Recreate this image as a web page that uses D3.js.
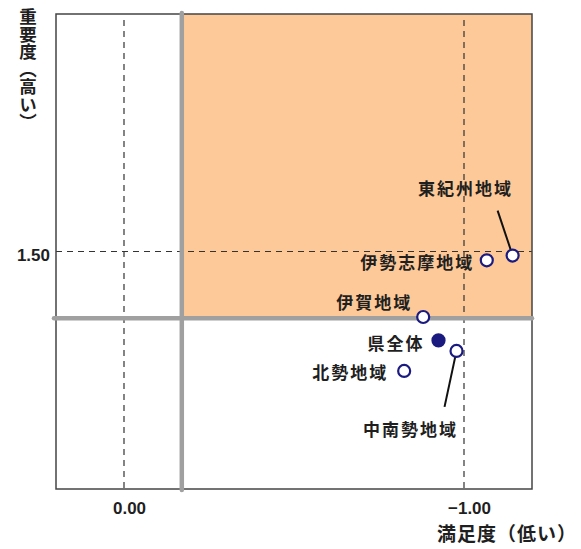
<!DOCTYPE html>
<html>
<head>
<meta charset="utf-8">
<script src="https://cdn.jsdelivr.net/npm/d3@7"></script>
<style>
  body { margin: 0; background: #fff; }
  text { font-family: "Noto Sans CJK JP", "Noto Sans", sans-serif; fill: #1f1f1f; }
</style>
</head>
<body>
<div id="chart"></div>
<script>
// data
var regions = ["東紀州地域", "伊勢志摩地域", "伊賀地域", "県全体", "中南勢地域", "北勢地域"]
var satisfaction = [-1.143, -1.067, -0.880, -0.925, -0.978, -0.824]
var importance = [1.488, 1.474, 1.307, 1.238, 1.207, 1.148]
var isTotal = [false, false, false, true, false, false]
var xTicks = [0.00, -1.00]
var yTicks = [1.50]
var avgSatisfaction = -0.17
var avgImportance = 1.303

// label layout (pixel offsets from the point)
var labelLayout = [
  {dx: -47, dy: -68, anchor: "middle", lead: [-15, -45]},
  {dx: -12.5, dy: 1, anchor: "end"},
  {dx: -11, dy: -15, anchor: "end"},
  {dx: -14, dy: 2, anchor: "end"},
  {dx: -46, dy: 78, anchor: "middle", lead: [-12, 56]},
  {dx: -16, dy: 1, anchor: "end"}
]

var W = 581, H = 549
var m = {left: 56, right: 532, top: 14, bottom: 489}

var svg = d3.select("#chart").append("svg")
    .attr("width", W)
    .attr("height", H)

var x = d3.scaleLinear().domain([0.2, -1.2]).range([m.left, m.right])
var y = d3.scaleLinear().domain([0.8, 2.2]).range([m.bottom, m.top])

// orange quadrant
svg.append("rect")
    .attr("x", x(avgSatisfaction))
    .attr("y", m.top)
    .attr("width", m.right - x(avgSatisfaction))
    .attr("height", y(avgImportance) - m.top)
    .style("fill", "#fdc998")

// dashed reference lines
svg.selectAll("xdash")
  .data(xTicks)
  .enter()
  .append("line")
    .attr("x1", function(d) { return x(d) })
    .attr("x2", function(d) { return x(d) })
    .attr("y1", m.top + 6)
    .attr("y2", m.bottom)
    .attr("stroke", "#333")
    .attr("stroke-width", 1.2)
    .attr("stroke-dasharray", "6,5")

svg.selectAll("ydash")
  .data(yTicks)
  .enter()
  .append("line")
    .attr("x1", m.left)
    .attr("x2", m.right)
    .attr("y1", function(d) { return y(d) })
    .attr("y2", function(d) { return y(d) })
    .attr("stroke", "#333")
    .attr("stroke-width", 1.2)
    .attr("stroke-dasharray", "6,5")

// frame
svg.append("rect")
    .attr("x", m.left)
    .attr("y", m.top)
    .attr("width", m.right - m.left)
    .attr("height", m.bottom - m.top)
    .style("fill", "none")
    .style("stroke", "#444")
    .style("stroke-width", 1.5)

// average lines (thick gray)
svg.append("line")
    .attr("x1", x(avgSatisfaction)).attr("x2", x(avgSatisfaction))
    .attr("y1", m.top - 1).attr("y2", m.bottom + 1)
    .attr("stroke", "#a0a0a0")
    .attr("stroke-width", 4.5)
    .attr("stroke-linecap", "round")
svg.append("line")
    .attr("x1", m.left - 2).attr("x2", m.right)
    .attr("y1", y(avgImportance)).attr("y2", y(avgImportance))
    .attr("stroke", "#a0a0a0")
    .attr("stroke-width", 4.5)
    .attr("stroke-linecap", "round")

// axes
var xAxis = svg.append("g")
    .attr("transform", "translate(0," + m.bottom + ")")
    .call(d3.axisBottom(x).tickValues(xTicks).tickSize(0).tickPadding(13).tickFormat(d3.format(".2f")))
xAxis.select(".domain").remove()
xAxis.selectAll("text")
    .attr("dx", 5)
    .style("font-size", "17px")
    .style("font-weight", "bold")
    .style("font-family", "'Liberation Sans', Arial, sans-serif")

var yAxis = svg.append("g")
    .attr("transform", "translate(" + m.left + ",0)")
    .call(d3.axisLeft(y).tickValues(yTicks).tickSize(0).tickPadding(6).tickFormat(d3.format(".2f")))
yAxis.select(".domain").remove()
yAxis.selectAll("text")
    .attr("dy", "0.55em")
    .style("font-size", "17px")
    .style("font-weight", "bold")
    .style("font-family", "'Liberation Sans', Arial, sans-serif")

// axis titles
svg.append("text")
    .attr("x", 28)
    .attr("y", 8)
    .text("重要度（高い）")
    .style("writing-mode", "vertical-rl")
    .style("font-size", "17.5px")
    .style("font-weight", "bold")

svg.append("text")
    .attr("x", 577)
    .attr("y", 541)
    .attr("text-anchor", "end")
    .text("満足度（低い）")
    .style("font-size", "19px")
    .style("font-weight", "bold")
    .style("letter-spacing", "1px")

// leader lines
svg.selectAll("leader")
  .data(regions.filter(function(d, i) { return labelLayout[i].lead }))
  .enter()
  .append("line")
    .attr("x1", function(d) { var i = regions.indexOf(d); return x(satisfaction[i]) + labelLayout[i].lead[0] })
    .attr("y1", function(d) { var i = regions.indexOf(d); return y(importance[i]) + labelLayout[i].lead[1] })
    .attr("x2", function(d) { var i = regions.indexOf(d); return x(satisfaction[i]) })
    .attr("y2", function(d) { var i = regions.indexOf(d); return y(importance[i]) })
    .attr("stroke", "#111")
    .attr("stroke-width", 2)

// points
svg.selectAll("pt")
  .data(regions)
  .enter()
  .append("circle")
    .attr("cx", function(d, i) { return x(satisfaction[i]) })
    .attr("cy", function(d, i) { return y(importance[i]) })
    .attr("r", 6)
    .style("fill", function(d, i) { return isTotal[i] ? "#1a1a80" : "#fff" })
    .style("stroke", "#1a1a80")
    .style("stroke-width", 2.2)

// labels
svg.selectAll("lbl")
  .data(regions)
  .enter()
  .append("text")
    .attr("x", function(d, i) { return x(satisfaction[i]) + labelLayout[i].dx })
    .attr("y", function(d, i) { return y(importance[i]) + labelLayout[i].dy })
    .attr("text-anchor", function(d, i) { return labelLayout[i].anchor })
    .attr("dominant-baseline", "central")
    .text(function(d) { return d })
    .style("font-size", "17px")
    .style("font-weight", "bold")
    .style("letter-spacing", "2px")
</script>
</body>
</html>
